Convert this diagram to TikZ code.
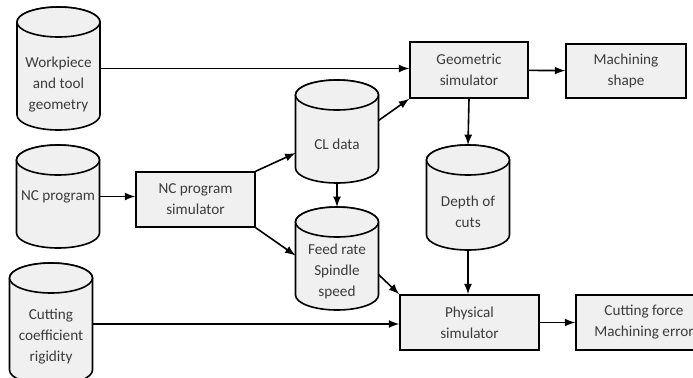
\documentclass[tikz,border=0pt]{standalone}
\usepackage{fontspec}
\setmainfont{Carlito}
\usetikzlibrary{shapes.geometric,positioning}
\definecolor{boxfill}{RGB}{240,240,240}
\definecolor{txtgray}{RGB}{60,60,60}
\tikzset{
  block/.style={draw, thick, fill=boxfill, text=txtgray, align=center,
    font=\fontsize{7.6}{10.5}\selectfont, inner sep=0pt},
  store/.style={inner sep=0pt, outer sep=0pt, minimum width=41.5pt},
  lid/.style={draw, thick, fill=boxfill},
  tag/.style={text=txtgray, align=center, font=\fontsize{7.6}{10.5}\selectfont},
  flow/.style={-latex, thick},
}
\begin{document}
\begin{tikzpicture}[x=0.5pt, y=-0.5pt]
\useasboundingbox (0,0) rectangle (693,377);
% data stores
\node[store, minimum height=61.5pt] (wp) at (58.5,68.5) {};
\node[store, minimum height=51.5pt] (ncp) at (58,196.5) {};
\node[store, minimum height=61pt] (ccr) at (51,324) {};
\node[store, minimum height=51.5pt] (cl) at (337,131.5) {};
\node[store, minimum height=51.5pt] (feed) at (337,258.5) {};
\node[store, minimum height=52.5pt] (depth) at (468,197.5) {};
\foreach \n in {wp,ncp,ccr,cl,feed,depth}{
  \draw[lid] ([yshift=-7.5pt]\n.north west) -- ([yshift=7.5pt]\n.south west)
    arc[start angle=180, end angle=360, x radius=20.75pt, y radius=7.5pt]
    -- ([yshift=-7.5pt]\n.north east)
    arc[start angle=0, end angle=180, x radius=20.75pt, y radius=7.5pt] -- cycle;
  \draw[lid] ([yshift=-7.5pt]\n.north) ellipse [x radius=20.75pt, y radius=7.5pt];
}
% their texts sit below the top lid
\node[tag] (wptext) at ([yshift=-8pt]wp.center) {Workpiece\\and tool\\geometry};
\node[tag] (ncptext) at (ncp.center) {NC program};
\node[tag] (ccrtext) at ([yshift=-6.5pt]ccr.center) {Cutting\\coefficient\\rigidity};
\node[tag] (cltext) at ([yshift=-6.5pt]cl.center) {CL data};
\node[tag] (feedtext) at ([yshift=-6.5pt]feed.center) {Feed rate\\Spindle\\speed};
\node[tag] (depthtext) at ([yshift=-7pt]depth.center) {Depth of\\cuts};
% simulators and results
\node[block, minimum width=59.5pt, minimum height=27.5pt] (ncsim) at (195.5,199.5) {NC program\\simulator};
\node[block, minimum width=59pt, minimum height=28pt] (geo) at (469,70) {Geometric\\simulator};
\node[block, minimum width=60pt, minimum height=27pt] (mach) at (626,71) {Machining\\shape};
\node[block, minimum width=69.5pt, minimum height=27.5pt] (phys) at (469.5,322.5) {Physical\\simulator};
\node[block, minimum width=68pt, minimum height=27.5pt] (cut) at (644,322.5) {Cutting force\\Machining error};
% connections
\draw[flow] (wp.east) -- (wp.east -| geo.west);
\draw[flow] (ncp.east) -- (ncp.east -| ncsim.west);
\draw[flow] (ncsim.north east) -- ([yshift=-10.75pt]cl.west);
\draw[flow] (ncsim.south east) -- ([yshift=1.5pt]feed.west);
\draw[flow] (cl.south) -- (feed.north);
\draw[flow] ([yshift=5.5pt]cl.east) -- (geo.south west);
\draw[flow] (geo) -- (mach);
\draw[flow] (geo.south) -- (depth.north);
\draw[flow] (depth.south) -- (depth.south |- phys.north);
\draw[flow] ([yshift=-8pt]feed.east) -- (phys.north west);
\draw[flow] (ccr.east) -- (ccr.east -| phys.west);
\draw[flow] (phys) -- (cut);
\end{tikzpicture}
\end{document}
